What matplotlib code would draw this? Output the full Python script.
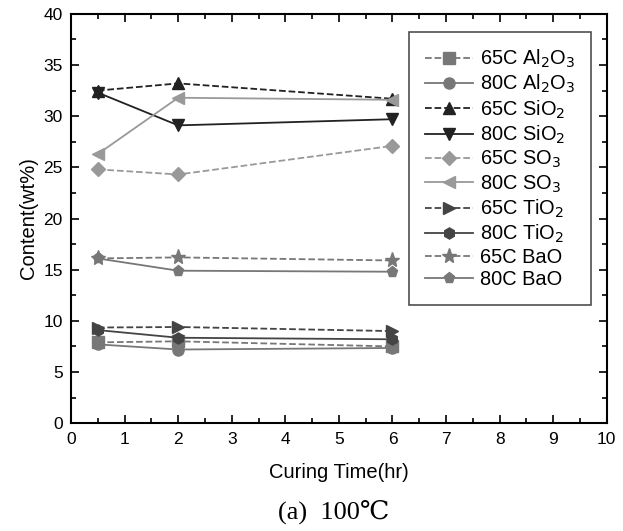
import matplotlib
matplotlib.use("Agg")
import matplotlib.pyplot as plt
from matplotlib.ticker import MultipleLocator

plt.rcParams["font.family"] = ["Liberation Sans", "DejaVu Sans"]

# curing times (hr)
time = [0.5, 2, 6]

# content (wt%)
al2o3_65 = [7.9, 8.0, 7.5]
al2o3_80 = [7.7, 7.2, 7.35]
sio2_65 = [32.5, 33.2, 31.7]
sio2_80 = [32.3, 29.1, 29.7]
so3_65 = [24.8, 24.3, 27.1]
so3_80 = [26.3, 31.8, 31.6]
tio2_65 = [9.35, 9.4, 9.0]
tio2_80 = [9.1, 8.35, 8.2]
bao_65 = [16.1, 16.2, 15.9]
bao_80 = [16.1, 14.9, 14.8]

series = [
    ("65C Al$_2$O$_3$", al2o3_65, "#777777", "--", "s"),
    ("80C Al$_2$O$_3$", al2o3_80, "#777777", "-", "o"),
    ("65C SiO$_2$", sio2_65, "#222222", "--", "^"),
    ("80C SiO$_2$", sio2_80, "#222222", "-", "v"),
    ("65C SO$_3$", so3_65, "#999999", "--", "D"),
    ("80C SO$_3$", so3_80, "#999999", "-", "<"),
    ("65C TiO$_2$", tio2_65, "#444444", "--", ">"),
    ("80C TiO$_2$", tio2_80, "#444444", "-", "h"),
    ("65C BaO", bao_65, "#777777", "--", "*"),
    ("80C BaO", bao_80, "#777777", "-", "p"),
]

fig = plt.figure(figsize=(6.23, 5.31), dpi=100)
ax = fig.add_axes([0.114, 0.203, 0.860, 0.771])

for label, vals, col, ls, mk in series:
    ms = 11 if mk == "*" else 8
    if mk == "D":
        ms = 7
    ax.plot(time, vals, color=col, ls=ls, lw=1.3, marker=mk, ms=ms,
            mec=col, mfc=col, label=label)

ax.set_xlim(0, 10)
ax.set_ylim(0, 40)
ax.xaxis.set_major_locator(MultipleLocator(1))
ax.xaxis.set_minor_locator(MultipleLocator(0.5))
ax.yaxis.set_major_locator(MultipleLocator(5))
ax.yaxis.set_minor_locator(MultipleLocator(2.5))
ax.tick_params(which="both", direction="in", top=True, right=True,
               labelsize=12.5, width=1.2, pad=6)
ax.tick_params(which="major", length=6)
ax.tick_params(which="minor", length=3.5)
for s in ax.spines.values():
    s.set_linewidth(1.5)

ax.set_xlabel("Curing Time(hr)", fontsize=14.5, labelpad=12)
ax.set_ylabel("Content(wt%)", fontsize=14.5, labelpad=4)

leg = ax.legend(loc="upper right", bbox_to_anchor=(0.970, 0.956), fontsize=14.4,
                frameon=True, fancybox=False, edgecolor="#222222",
                handlelength=2.4, handletextpad=0.35, labelspacing=0.15,
                borderpad=0.8, borderaxespad=0)
leg.get_frame().set_linewidth(1.2)

fig.text(0.535, 0.036, "(a)  100\u2103", ha="center", va="center", fontsize=19,
         family=["Liberation Serif", "DejaVu Serif", "Noto Sans CJK KR"])

fig.savefig("out.png", dpi=100)
